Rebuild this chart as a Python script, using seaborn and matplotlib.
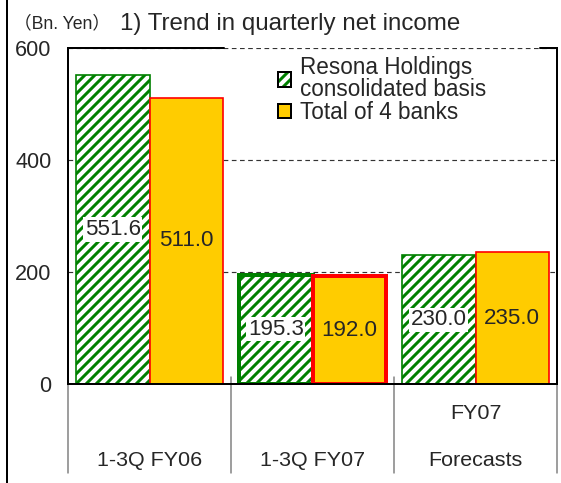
import pandas as pd
import seaborn as sns
import matplotlib.pyplot as plt
from matplotlib.patches import Patch
from matplotlib.lines import Line2D
from matplotlib.colors import to_rgba

# data
periods = ['1-3Q FY06', '1-3Q FY07', 'FY07 Forecasts']
tick_labels = ['\n1-3Q FY06', '\n1-3Q FY07', 'FY07\nForecasts']
series = ['Resona Holdings\nconsolidated basis', 'Total of 4 banks']
resona = [551.6, 195.3, 230.0]
banks = [511.0, 192.0, 235.0]

GREEN = '#008000'
YELLOW = '#FFCC00'
RED = '#FF0000'

df = pd.DataFrame({
    'period': periods * 2,
    'series': [series[0]] * 3 + [series[1]] * 3,
    'value': resona + banks,
})

sns.set_style('white')
plt.rcParams['font.family'] = ['Liberation Sans', 'Noto Sans CJK JP', 'DejaVu Sans']
plt.rcParams['hatch.linewidth'] = 1.8

DPI = 120
fig = plt.figure(figsize=(561 / DPI, 483 / DPI), dpi=DPI)
ax = fig.add_axes([68 / 561, 1 - 384 / 483, 489 / 561, 336 / 483])

sns.barplot(data=df, x='period', y='value', hue='series', order=periods,
            hue_order=series, palette=[GREEN, YELLOW], width=0.9,
            dodge=True, legend=False, ax=ax, zorder=2)

# style the bars: hatched green / solid yellow, 2nd group with heavy edges
for i, bar in enumerate(ax.containers[0]):
    bar.set_facecolor('white')
    bar.set_edgecolor(GREEN)
    bar.set_hatch('////')
    bar.set_linewidth(2.4 if i == 1 else 1.0)
for i, bar in enumerate(ax.containers[1]):
    bar.set_facecolor(YELLOW)
    bar.set_edgecolor(RED)
    bar.set_linewidth(2.4 if i == 1 else 1.0)

# value labels in the middle of each bar
for bar, v in zip(ax.containers[0], resona):
    ax.text(bar.get_x() + bar.get_width() / 2, v / 2, f'{v:.1f}',
            ha='center', va='center', fontsize=13.4, zorder=4,
            bbox=dict(facecolor='white', edgecolor='none', pad=1))
for bar, v in zip(ax.containers[1], banks):
    ax.text(bar.get_x() + bar.get_width() / 2, v / 2, f'{v:.1f}',
            ha='center', va='center', fontsize=13.4, zorder=4)

ax.set_ylim(0, 600)
ax.set_xlim(-0.5, 2.5)
ax.set_yticks([0, 200, 400, 600])
ax.tick_params(axis='y', length=3, width=0.7, pad=7, labelsize=13)
ax.set_xticks(range(len(periods)))
ax.set_xticklabels(tick_labels, fontsize=12.9, linespacing=2.9)
ax.tick_params(axis='x', length=0, pad=12)
ax.set_xlabel('')
ax.set_ylabel('')

for y in [200, 400, 600]:
    ax.axhline(y, color='#333333', lw=0.7, ls=(0, (4, 3)), zorder=1)

for s in ['left', 'bottom', 'right']:
    ax.spines[s].set_visible(True)
    ax.spines[s].set_color('black')
    ax.spines[s].set_linewidth(1.2)
ax.spines['top'].set_visible(False)
ax.plot([0, 0.32], [1, 1], transform=ax.transAxes, color='black', lw=1.2,
        clip_on=False, zorder=3)
ax.plot([0.965, 1], [1, 1], transform=ax.transAxes, color='black', lw=1.2,
        clip_on=False, zorder=3)

# category separators below the axis
trans = ax.get_xaxis_transform()
for k, xd in enumerate([-0.5, 0.5, 1.5, 2.5]):
    top = 0.0 if k in (0, 3) else 0.02
    ax.plot([xd, xd], [-0.265, top], transform=trans, color='#808080',
            lw=0.9, clip_on=False)

handles = [
    Patch(facecolor='white', edgecolor='black', hatch='////', lw=1.2),
    Patch(facecolor=YELLOW, edgecolor='black', lw=1.2),
]
leg = ax.legend(handles, series, loc='upper left', bbox_to_anchor=(0.42, 0.99),
                frameon=False, fontsize=13.5, handlelength=0.6,
                handleheight=0.6, handletextpad=0.4, borderpad=0.2,
                labelspacing=0.0, borderaxespad=0)
for t in leg.get_texts():
    t.set_linespacing(0.95)
h0 = leg.legend_handles[0]
if hasattr(h0, 'set_hatchcolor'):
    h0.set_hatchcolor(GREEN)
else:
    h0._hatch_color = to_rgba(GREEN)

fig.text(120 / 561, 1 - 30 / 483, '1) Trend in quarterly net income',
         fontsize=14.5, va='baseline', ha='left')
fig.text(14 / 561, 1 - 28 / 483, '（Bn. Yen）', fontsize=10.6,
         va='baseline', ha='left')

fig.add_artist(Line2D([7 / 561, 7 / 561], [0, 1], color='black', lw=1.2))

fig.savefig('out.png', dpi=DPI)
